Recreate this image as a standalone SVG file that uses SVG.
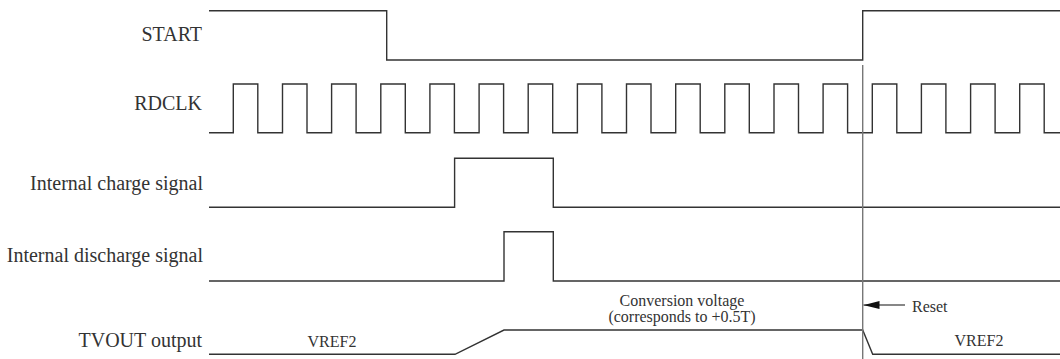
<svg xmlns="http://www.w3.org/2000/svg" width="1060" height="359" viewBox="0 0 1060 359">
<style>
.w{fill:none;stroke:#333;stroke-width:1.4;stroke-linejoin:miter}
.lbl{font-family:'Liberation Serif','Times New Roman','DejaVu Serif',serif;font-size:20px;fill:#333;text-anchor:end}
.sm{font-family:'Liberation Serif','Times New Roman','DejaVu Serif',serif;font-size:16px;fill:#333}
.mid{text-anchor:middle}
</style>
<defs>
<marker id="ah" markerWidth="16" markerHeight="8" refX="16" refY="4" orient="auto" markerUnits="userSpaceOnUse">
<path d="M0,0 L16,4 L0,8 Z" fill="#111"/>
</marker>
</defs>
<rect width="1060" height="359" fill="#fff"/>
<g id="start">
<text class="lbl" x="202" y="41">START</text>
<path class="w" d="M209,10.7 H386.7 V60 H862.7 V10.7 H1060"/>
</g>
<g id="rdclk">
<text class="lbl" x="202" y="110">RDCLK</text>
<path class="w" d="M209,132.7 H233.3 V84 H257.8 V132.7 H282.5 V84 H307 V132.7 H331.6 V84 H356.1 V132.7 H380.8 V84 H405.3 V132.7 H429.9 V84 H454.4 V132.7 H479.1 V84 H503.6 V132.7 H528.2 V84 H552.7 V132.7 H577.4 V84 H601.9 V132.7 H626.5 V84 H651 V132.7 H675.7 V84 H700.2 V132.7 H724.8 V84 H749.3 V132.7 H774 V84 H798.5 V132.7 H823.1 V84 H847.6 V132.7 H872.3 V84 H896.8 V132.7 H921.4 V84 H945.9 V132.7 H970.6 V84 H995.1 V132.7 H1019.7 V84 H1044.2 V132.7 H1060"/>
</g>
<g id="charge">
<text class="lbl" x="203" y="190">Internal charge signal</text>
<path class="w" d="M209,207.3 H454.6 V158.3 H553.3 V207.3 H1060"/>
</g>
<g id="discharge">
<text class="lbl" x="203" y="262">Internal discharge signal</text>
<path class="w" d="M209,281 H504 V231.7 H553.3 V281 H1060"/>
</g>
<g id="tvout">
<text class="lbl" x="202" y="347">TVOUT output</text>
<path class="w" d="M209,354.3 H455 L504,330 H862.7 L872.7,354.3 H1060"/>
<text class="sm mid" x="332" y="347">VREF2</text>
<text class="sm mid" x="979" y="346">VREF2</text>
<text class="sm mid" x="682" y="306">Conversion voltage</text>
<text class="sm mid" x="682" y="322">(corresponds to +0.5T)</text>
</g>
<g id="connectors">
<line x1="862.7" y1="65" x2="862.7" y2="359" stroke="#777" stroke-width="1.4"/>
<line x1="905" y1="305" x2="863.5" y2="305" stroke="#111" stroke-width="1.2" marker-end="url(#ah)"/>
<text class="sm" x="912" y="312">Reset</text>
</g>
</svg>
